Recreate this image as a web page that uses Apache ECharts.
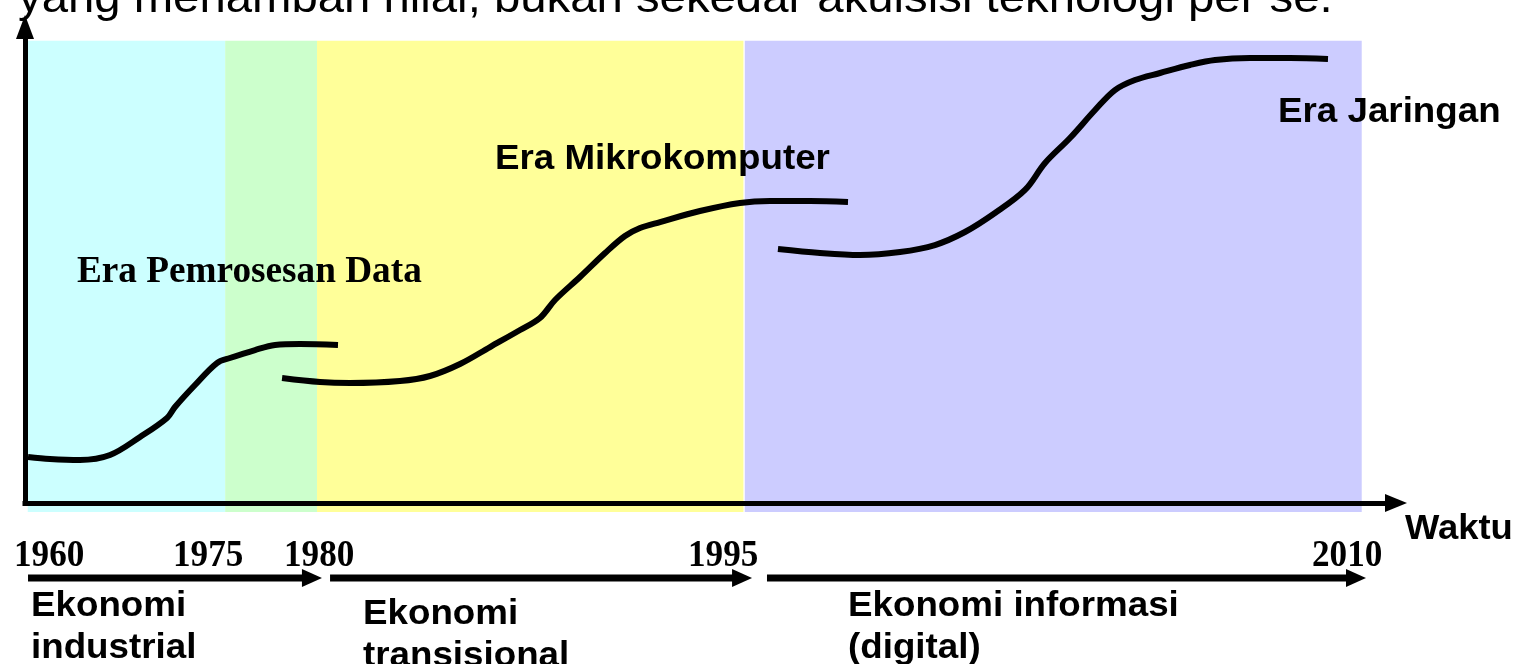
<!DOCTYPE html>
<html>
<head>
<meta charset="utf-8">
<script src="https://cdn.jsdelivr.net/npm/echarts@6/dist/echarts.min.js"></script>
<style>html,body{margin:0;padding:0;background:#fff;}#c{width:1519px;height:664px;}</style>
</head>
<body>
<div id="c"></div>
<script>
// ---- data (schematic time axis 0..100, level axis 0..100) ----
const bandStart = [0.2, 14.6, 21.3, 52.5];
const bandEnd   = [14.6, 21.3, 52.4, 97.5];
const bandTop = 97.1;
const bandBottom = -1.9;

const curveDataProcessing = [
  [0.22, 9.66], [1.82, 9.24], [4.01, 9.03], [6.20, 10.08], [8.39, 13.87],
  [10.36, 17.86], [10.94, 20.17], [12.40, 24.79], [14.00, 29.41], [14.95, 30.46],
  [16.78, 32.14], [18.24, 33.19], [20.06, 33.40], [22.83, 33.19]
];
const curveMicro = [
  [18.75, 26.26], [21.52, 25.42], [23.71, 25.21], [27.35, 25.63], [29.54, 26.68],
  [31.73, 29.20], [33.92, 32.77], [36.11, 36.34], [37.56, 38.87], [38.66, 42.65],
  [40.48, 47.48], [42.31, 52.52], [43.76, 56.09], [44.86, 57.77], [46.32, 59.03],
  [49.23, 61.34], [52.15, 63.03], [54.34, 63.45], [57.26, 63.45], [60.03, 63.24]
];
const curveNetwork = [
  [54.92, 53.36], [57.99, 52.52], [60.90, 52.10], [63.82, 52.73], [66.37, 54.20],
  [68.56, 56.93], [70.75, 60.92], [72.94, 65.76], [74.40, 71.43], [76.22, 76.68],
  [78.05, 82.56], [79.50, 86.76], [80.96, 88.87], [82.79, 90.34], [84.97, 92.02],
  [86.80, 93.07], [89.35, 93.49], [92.27, 93.49], [95.04, 93.28]
];

const economyStart = [0.22, 22.25, 54.12];
const economyEnd   = [21.66, 53.03, 97.81];
const economyLevel = -15.76;

const eraLabels = ['Era Pemrosesan Data', 'Era Mikrokomputer', 'Era Jaringan'];
const economyLabels = ['Ekonomi\nindustrial', 'Ekonomi\ntransisional', 'Ekonomi informasi\n(digital)'];
const yearLabels = ['1960', '1975', '1980', '1995', '2010'];
const xAxisName = 'Waktu';
const topText = 'yang menambah nilai, bukan sekedar akuisisi teknologi per se.';

// ---- styles ----
const bandColors = ['#ccffff', '#ccffcc', '#ffff99', '#ccccff'];
const ARIAL = '"Liberation Sans", Arial, sans-serif';
const TIMES = '"Liberation Serif", "Times New Roman", serif';

const chart = echarts.init(document.getElementById('c'), null, {renderer: 'canvas'});

function txt(text, x, y, font, scaleX) {
  return {
    type: 'text', x: x, y: y, z: 100, scaleX: scaleX || 1,
    style: {
      text: text, font: font, fill: '#000',
      align: 'left', verticalAlign: 'middle',
      textAlign: 'left', textVerticalAlign: 'middle'
    }
  };
}

const yearX = [14, 173, 284, 688, 1312];
const graphics = [];
graphics.push(txt(topText, 18, 0, '44px ' + ARIAL, 1.075));
graphics.push(txt(eraLabels[0], 77, 272, 'bold 38px ' + TIMES, 0.98));
graphics.push(txt(eraLabels[1], 495, 159, 'bold 35px ' + ARIAL, 1.05));
graphics.push(txt(eraLabels[2], 1278, 112, 'bold 35px ' + ARIAL, 1.05));
graphics.push(txt(xAxisName, 1405, 529, 'bold 35px ' + ARIAL, 1.04));
yearLabels.forEach((y, i) => graphics.push(txt(y, yearX[i], 556, 'bold 37px ' + TIMES, 0.95)));
const econPos = [[31, 606], [363, 614], [848, 606]];
economyLabels.forEach((t, i) => {
  t.split('\n').forEach((line, j) => {
    graphics.push(txt(line, econPos[i][0], econPos[i][1] + j * 42, 'bold 35px ' + ARIAL, 1.05));
  });
});

const lineStyleCurve = {color: '#000', width: 6};

const option = {
  animation: false,
  backgroundColor: '#fff',
  grid: {left: 25, right: 123, top: 27, bottom: 161},
  xAxis: {
    type: 'value', min: 0, max: 100, z: 10,
    axisLine: {show: true, onZero: true, symbol: ['none', 'triangle'], symbolSize: [18, 22],
      lineStyle: {color: '#000', width: 5, cap: 'square'}},
    axisTick: {show: false}, axisLabel: {show: false}, splitLine: {show: false}
  },
  yAxis: {
    type: 'value', min: 0, max: 100, z: 10,
    axisLine: {show: true, onZero: true, symbol: ['none', 'triangle'], symbolSize: [18, 24],
      lineStyle: {color: '#000', width: 5, cap: 'square'}},
    axisTick: {show: false}, axisLabel: {show: false}, splitLine: {show: false}
  },
  graphic: graphics,
  series: [
    {
      type: 'custom', z: 1, clip: false, silent: true,
      data: bandStart.map((s, i) => [s, bandEnd[i], bandTop, bandBottom]),
      encode: {x: [0, 1], y: [2, 3]},
      renderItem: function (params, api) {
        const p0 = api.coord([api.value(0), api.value(2)]);
        const p1 = api.coord([api.value(1), api.value(3)]);
        return {type: 'rect', shape: {x: p0[0], y: p0[1], width: p1[0] - p0[0], height: p1[1] - p0[1]},
          style: {fill: bandColors[params.dataIndex]}};
      }
    },
    {type: 'line', z: 5, data: curveDataProcessing, showSymbol: false, smooth: 0.35, lineStyle: lineStyleCurve},
    {type: 'line', z: 5, data: curveMicro, showSymbol: false, smooth: 0.35, lineStyle: lineStyleCurve},
    {type: 'line', z: 5, data: curveNetwork, showSymbol: false, smooth: 0.35, lineStyle: lineStyleCurve},
    {
      type: 'custom', z: 10, clip: false, silent: true,
      data: economyStart.map((s, i) => [s, economyEnd[i], economyLevel]),
      encode: {x: [0, 1], y: 2},
      renderItem: function (params, api) {
        const a = api.coord([api.value(0), api.value(2)]);
        const b = api.coord([api.value(1), api.value(2)]);
        const headLen = 20, headHalf = 9;
        return {type: 'group', children: [
          {type: 'line', shape: {x1: a[0], y1: a[1], x2: b[0] - headLen + 2, y2: b[1]},
            style: {stroke: '#000', lineWidth: 7}},
          {type: 'polygon', shape: {points: [[b[0], b[1]], [b[0] - headLen, b[1] - headHalf], [b[0] - headLen, b[1] + headHalf]]},
            style: {fill: '#000'}}
        ]};
      }
    }
  ]
};
chart.setOption(option);
</script>
</body>
</html>
